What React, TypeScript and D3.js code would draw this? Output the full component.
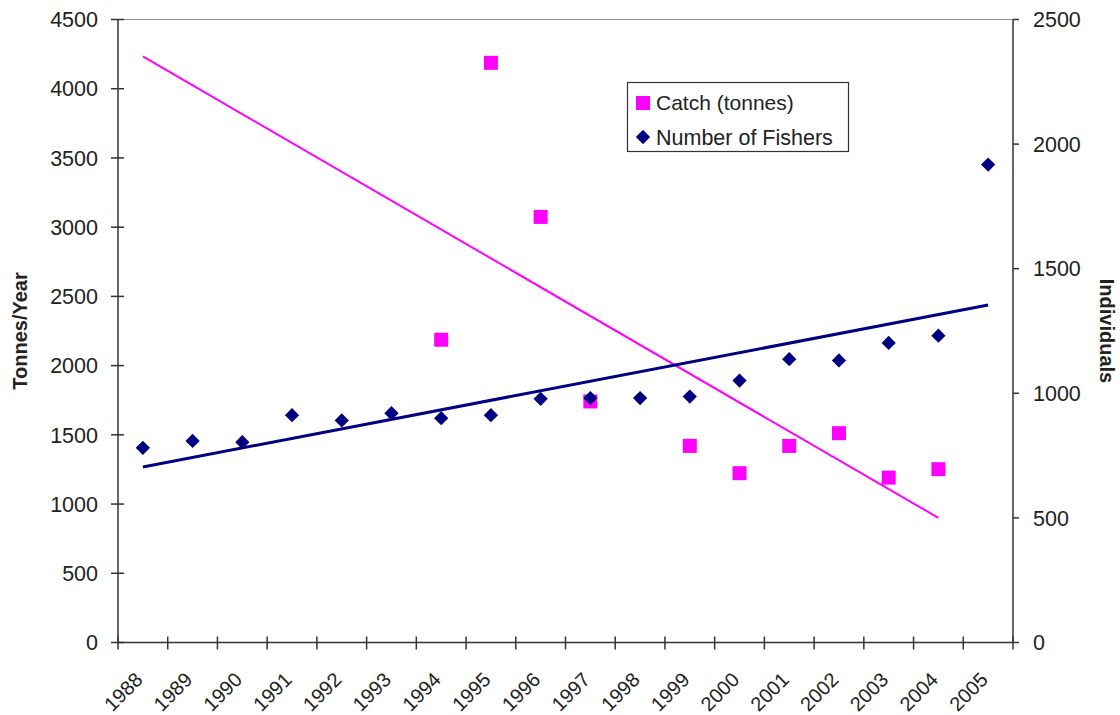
import React, { useEffect, useRef } from 'react';
import * as d3 from 'd3';

const years = ['1988', '1989', '1990', '1991', '1992', '1993', '1994', '1995', '1996', '1997', '1998', '1999', '2000', '2001', '2002', '2003', '2004', '2005'];
const catchTonnes: (number | null)[] = [null, null, null, null, null, null, 2187, 4187, 3074, 1741, null, 1420, 1223, 1420, 1512, 1191, 1252, null];
const fishers = [781, 809, 804, 912, 891, 920, 900, 912, 978, 981, 981, 987, 1051, 1137, 1132, 1202, 1231, 1918];
const leftTicks = [0, 500, 1000, 1500, 2000, 2500, 3000, 3500, 4000, 4500];
const rightTicks = [0, 500, 1000, 1500, 2000, 2500];

const WIDTH = 1120;
const HEIGHT = 715;
const FONT = '"Liberation Sans", Arial, sans-serif';

// least squares fit against category index, like Excel's linear trendline
const linearFit = (vals: (number | null)[]) => {
  const pts = vals.map((v, i) => [i, v] as [number, number | null]).filter(p => p[1] != null) as [number, number][];
  const mx = d3.mean(pts, p => p[0]) as number;
  const my = d3.mean(pts, p => p[1]) as number;
  const sxy = d3.sum(pts, p => (p[0] - mx) * (p[1] - my));
  const sxx = d3.sum(pts, p => (p[0] - mx) ** 2);
  const slope = sxy / sxx;
  return { slope, intercept: my - slope * mx, last: pts[pts.length - 1][0] };
};

const App = () => {
  const svgRef = useRef<SVGSVGElement>(null);

  useEffect(() => {
    const svg = d3.select(svgRef.current);
    svg.selectAll('*').remove();

    const left = 118, right = 1013, top = 19.5, bottom = 642.5;

    const x = d3.scaleBand().domain(years).range([left, right]).padding(0);
    const cx = (i: number) => (x(years[i]) as number) + x.bandwidth() / 2;
    const yL = d3.scaleLinear().domain([0, 4500]).range([bottom, top]);
    const yR = d3.scaleLinear().domain([0, 2500]).range([bottom, top]);

    // top border of the plot area
    svg.append('line')
      .attr('x1', left).attr('x2', right)
      .attr('y1', top).attr('y2', top)
      .attr('stroke', '#909090').attr('stroke-width', 1);

    // left axis
    const gL = svg.append('g');
    gL.append('line').attr('x1', left).attr('x2', left).attr('y1', top).attr('y2', bottom)
      .attr('stroke', '#333').attr('stroke-width', 1.5);
    gL.selectAll('.tick').data(leftTicks).enter().append('line')
      .attr('x1', left - 7).attr('x2', left + 6)
      .attr('y1', d => yL(d)).attr('y2', d => yL(d))
      .attr('stroke', '#333').attr('stroke-width', 1.5);
    gL.selectAll('text').data(leftTicks).enter().append('text')
      .attr('x', 98).attr('y', d => yL(d)).attr('dy', '0.36em')
      .attr('text-anchor', 'end')
      .attr('font-family', FONT).attr('font-size', 21.5).attr('fill', '#222')
      .text(d => d);

    // right axis
    const gR = svg.append('g');
    gR.append('line').attr('x1', right).attr('x2', right).attr('y1', top).attr('y2', bottom)
      .attr('stroke', '#333').attr('stroke-width', 1.5);
    gR.selectAll('.tick').data(rightTicks).enter().append('line')
      .attr('x1', right).attr('x2', right + 6)
      .attr('y1', d => yR(d)).attr('y2', d => yR(d))
      .attr('stroke', '#333').attr('stroke-width', 1.5);
    gR.selectAll('text').data(rightTicks).enter().append('text')
      .attr('x', 1033).attr('y', d => yR(d)).attr('dy', '0.36em')
      .attr('font-family', FONT).attr('font-size', 21.5).attr('fill', '#222')
      .text(d => d);

    // bottom axis, ticks on category boundaries
    const gB = svg.append('g');
    gB.append('line').attr('x1', left).attr('x2', right).attr('y1', bottom).attr('y2', bottom)
      .attr('stroke', '#333').attr('stroke-width', 1.5);
    const bounds = years.map(y => x(y) as number).concat([right]);
    gB.selectAll('.tick').data(bounds).enter().append('line')
      .attr('x1', d => d).attr('x2', d => d)
      .attr('y1', bottom - 6).attr('y2', bottom + 7)
      .attr('stroke', '#333').attr('stroke-width', 1.5);
    gB.selectAll('text').data(years).enter().append('text')
      .attr('transform', (d, i) => `translate(${cx(i) + 1},681) rotate(-45)`)
      .attr('text-anchor', 'end')
      .attr('font-family', FONT).attr('font-size', 20).attr('fill', '#222')
      .text(d => d);

    // axis titles
    svg.append('text')
      .attr('transform', `translate(27,${(top + bottom) / 2}) rotate(-90)`)
      .attr('text-anchor', 'middle')
      .attr('font-family', FONT).attr('font-size', 20).attr('font-weight', 'bold').attr('fill', '#222')
      .text('Tonnes/Year');
    svg.append('text')
      .attr('transform', `translate(1100,${(top + bottom) / 2}) rotate(90)`)
      .attr('text-anchor', 'middle')
      .attr('font-family', FONT).attr('font-size', 20).attr('font-weight', 'bold').attr('fill', '#222')
      .text('Individuals');

    // trendlines
    const fitC = linearFit(catchTonnes);
    const fitF = linearFit(fishers);
    svg.append('line')
      .attr('x1', cx(0)).attr('y1', yL(fitC.intercept))
      .attr('x2', cx(fitC.last)).attr('y2', yL(fitC.intercept + fitC.slope * fitC.last))
      .attr('stroke', '#ff00ff').attr('stroke-width', 2);
    svg.append('line')
      .attr('x1', cx(0)).attr('y1', yR(fitF.intercept))
      .attr('x2', cx(fitF.last)).attr('y2', yR(fitF.intercept + fitF.slope * fitF.last))
      .attr('stroke', '#000080').attr('stroke-width', 3);

    // catch markers
    const sq = 14;
    svg.selectAll('.catch')
      .data(catchTonnes.map((v, i) => ({ v, i })).filter(d => d.v != null))
      .enter().append('rect')
      .attr('x', d => cx(d.i) - sq / 2).attr('y', d => yL(d.v as number) - sq / 2)
      .attr('width', sq).attr('height', sq)
      .attr('fill', '#ff00ff');

    // fisher markers
    const diamond = d3.symbol().type(d3.symbolDiamond2).size(130);
    svg.selectAll('.fishers').data(fishers).enter().append('path')
      .attr('d', diamond)
      .attr('transform', (d, i) => `translate(${cx(i)},${yR(d)})`)
      .attr('fill', '#000080');

    // legend
    const lg = svg.append('g');
    lg.append('rect').attr('x', 627.5).attr('y', 82.5).attr('width', 221).attr('height', 69)
      .attr('fill', '#fff').attr('stroke', '#333').attr('stroke-width', 1.2);
    lg.append('rect').attr('x', 636).attr('y', 96).attr('width', 14).attr('height', 14).attr('fill', '#ff00ff');
    lg.append('path').attr('d', diamond).attr('transform', 'translate(643,137)').attr('fill', '#000080');
    lg.append('text').attr('x', 656).attr('y', 110)
      .attr('font-family', FONT).attr('font-size', 21).attr('fill', '#222')
      .text('Catch (tonnes)');
    lg.append('text').attr('x', 656).attr('y', 144.5)
      .attr('font-family', FONT).attr('font-size', 21.5).attr('fill', '#222')
      .text('Number of Fishers');
  }, []);

  return (
    <svg ref={svgRef} width={WIDTH} height={HEIGHT}
      style={{ position: 'absolute', left: 0, top: 0, background: '#fff' }} />
  );
};

export default App;
